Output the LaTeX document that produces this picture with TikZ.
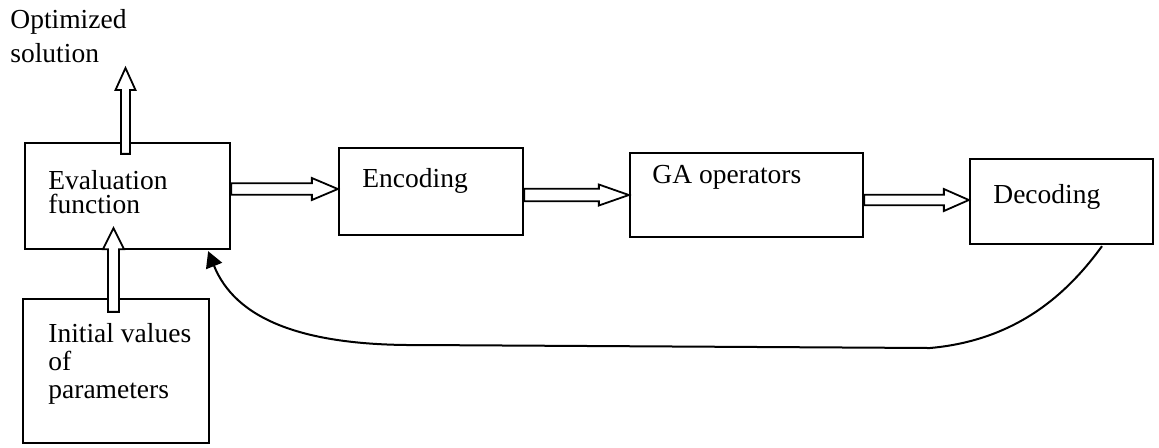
\documentclass[tikz,border=0pt]{standalone}
\usepackage{fontspec}
\setmainfont{Liberation Serif}
\usetikzlibrary{calc,fit,arrows.meta}

% hollow block arrow, horizontal: from #1 to the x of #2 (shaft half-width #3, head half-width #4, head length #5)
\newcommand\hblk[5]{%
  \draw[blk] let \p1=#1, \p2=#2 in
    (\x1,\y1-#3) -- (\x2-#5,\y1-#3) -- (\x2-#5,\y1-#4) -- (\x2,\y1)
    -- (\x2-#5,\y1+#4) -- (\x2-#5,\y1+#3) -- (\x1,\y1+#3) -- cycle;}
% hollow block arrow, pointing up: from #1 to the y of #2
\newcommand\vblk[5]{%
  \draw[blk] let \p1=#1, \p2=#2 in
    (\x1-#3,\y1) -- (\x1-#3,\y2-#5) -- (\x1-#4,\y2-#5) -- (\x1,\y2)
    -- (\x1+#4,\y2-#5) -- (\x1+#3,\y2-#5) -- (\x1+#3,\y1) -- cycle;}

\tikzset{
  box/.style={draw, line width=1.15pt, inner sep=0pt},
  blk/.style={draw, fill=white, line width=0.9pt, line join=miter},
  lbl/.style={anchor=base west, inner sep=0pt, align=left},
  fb/.style={line width=1pt, -{Triangle[length=8pt,width=8.5pt]}},
}

\begin{document}
\begin{tikzpicture}[x=0.5pt,y=-0.5pt,
  every node/.style={font=\fontsize{13.75}{16}\selectfont}]
\useasboundingbox (0,0) rectangle (1159,447);

% blocks
\node[box, fit={(25,143) (230,249)}] (eval) {};
\node[box, fit={(23,299) (209,443)}] (init) {};
\node[box, fit={(339,148) (523,235)}] (enc) {};
\node[box, fit={(630,153) (863,237)}] (ga) {};
\node[box, fit={(970,159) (1153,244)}] (dec) {};

% texts (anchored at the baseline of their last line)
\node[lbl, font=\fontsize{13.75}{17}\selectfont] (opt) at (10,62) {Optimized\\solution};
\node[lbl, font=\fontsize{13.75}{12}\selectfont] (evaltxt) at (48,213) {Evaluation\\function};
\node[lbl, font=\fontsize{13.75}{14}\selectfont] (inittxt) at (48,398) {Initial values\\of\\parameters};
\node[lbl] (enctxt) at (362,187) {Encoding};
\node[lbl] (gatxt) at (652,183) {GA operators};
\node[lbl] (dectxt) at (993,203) {Decoding};

\coordinate (opttip) at (125.5,68);

% data flow
\hblk{($(eval.east)+(0,-7)$)}{(enc.west)}{2.9pt}{5.5pt}{13pt}
\hblk{($(enc.east)+(0,3.5)$)}{(ga.west)}{3.1pt}{5.25pt}{15pt}
\hblk{($(ga.east)+(0,5)$)}{(dec.west)}{2.6pt}{5.5pt}{12.5pt}
\vblk{($(eval.north)+(-2,12)$)}{(opttip)}{2.25pt}{5pt}{11pt}
\vblk{($(init.north)+(-2.5,14)$)}{($(eval.south)+(-14,-22)$)}{2.75pt}{5.25pt}{10.5pt}

% feedback loop
\draw[fb] ($(dec.south)+(40.5,1)$) .. controls (1070,290) and (1020,340) .. (930,348)
  -- (420,345) .. controls (300,346) and (235,318) .. ($(eval.south east)+(-23,1)$);
\end{tikzpicture}
\end{document}
